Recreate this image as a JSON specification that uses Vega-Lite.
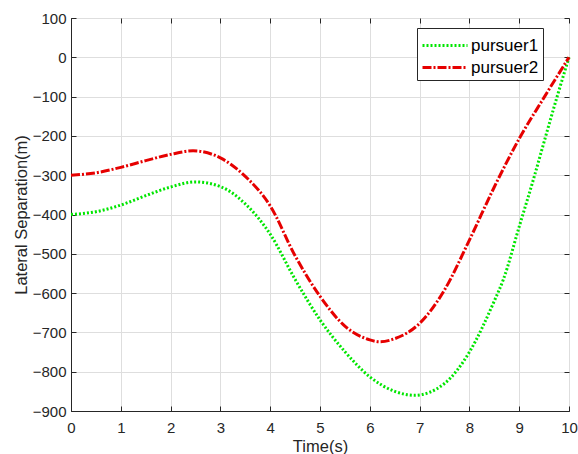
{
  "$schema": "https://vega.github.io/schema/vega-lite/v6.json",
  "autosize": "none",
  "width": 498,
  "height": 393,
  "padding": {"left": 71, "top": 18, "right": 9, "bottom": 43},
  "background": "white",
  "config": {
    "font": "Liberation Sans",
    "view": {"stroke": "#262626", "strokeWidth": 1},
    "axis": {
      "labelFont": "Liberation Sans",
      "titleFont": "Liberation Sans",
      "labelFontSize": 15,
      "titleFontSize": 16.5,
      "titleFontWeight": "normal",
      "labelColor": "#262626",
      "titleColor": "#262626",
      "domainColor": "#262626",
      "tickColor": "#262626",
      "gridColor": "#dedede",
      "gridOpacity": 1,
      "labelOverlap": false,
      "labelFlush": false
    }
  },
  "data": {
    "values": [
      {"t": 0, "v": -400, "s": "pursuer1"},
      {"t": 0.5, "v": -393, "s": "pursuer1"},
      {"t": 1, "v": -376, "s": "pursuer1"},
      {"t": 1.5, "v": -352, "s": "pursuer1"},
      {"t": 2, "v": -330, "s": "pursuer1"},
      {"t": 2.5, "v": -317, "s": "pursuer1"},
      {"t": 3, "v": -329, "s": "pursuer1"},
      {"t": 3.5, "v": -373, "s": "pursuer1"},
      {"t": 4, "v": -450, "s": "pursuer1"},
      {"t": 4.5, "v": -565, "s": "pursuer1"},
      {"t": 5, "v": -668, "s": "pursuer1"},
      {"t": 5.5, "v": -749, "s": "pursuer1"},
      {"t": 6, "v": -813, "s": "pursuer1"},
      {"t": 6.5, "v": -850, "s": "pursuer1"},
      {"t": 6.9, "v": -860, "s": "pursuer1"},
      {"t": 7.5, "v": -830, "s": "pursuer1"},
      {"t": 8, "v": -750, "s": "pursuer1"},
      {"t": 8.5, "v": -620, "s": "pursuer1"},
      {"t": 8.68, "v": -566, "s": "pursuer1"},
      {"t": 9, "v": -431, "s": "pursuer1"},
      {"t": 9.31, "v": -300, "s": "pursuer1"},
      {"t": 9.5, "v": -215, "s": "pursuer1"},
      {"t": 9.75, "v": -105, "s": "pursuer1"},
      {"t": 10, "v": 0, "s": "pursuer1"},
      {"t": 0, "v": -300, "s": "pursuer2"},
      {"t": 0.5, "v": -294, "s": "pursuer2"},
      {"t": 1, "v": -280, "s": "pursuer2"},
      {"t": 1.5, "v": -263, "s": "pursuer2"},
      {"t": 2, "v": -247, "s": "pursuer2"},
      {"t": 2.45, "v": -238, "s": "pursuer2"},
      {"t": 3, "v": -256, "s": "pursuer2"},
      {"t": 3.5, "v": -303, "s": "pursuer2"},
      {"t": 4, "v": -378, "s": "pursuer2"},
      {"t": 4.5, "v": -505, "s": "pursuer2"},
      {"t": 5, "v": -608, "s": "pursuer2"},
      {"t": 5.5, "v": -684, "s": "pursuer2"},
      {"t": 6, "v": -719, "s": "pursuer2"},
      {"t": 6.2, "v": -724, "s": "pursuer2"},
      {"t": 6.5, "v": -716, "s": "pursuer2"},
      {"t": 7, "v": -677, "s": "pursuer2"},
      {"t": 7.5, "v": -592, "s": "pursuer2"},
      {"t": 8, "v": -465, "s": "pursuer2"},
      {"t": 8.5, "v": -330, "s": "pursuer2"},
      {"t": 9, "v": -207, "s": "pursuer2"},
      {"t": 9.5, "v": -102, "s": "pursuer2"},
      {"t": 10, "v": 0, "s": "pursuer2"}
    ]
  },
  "resolve": {"axis": {"x": "independent", "y": "independent"}},
  "layer": [
    {
      "mark": {"type": "line", "interpolate": "monotone", "strokeWidth": 3},
      "encoding": {
        "x": {
          "field": "t", "type": "quantitative",
          "scale": {"domain": [0, 10], "nice": false},
          "axis": {"title": "Time(s)", "values": [0,1,2,3,4,5,6,7,8,9,10], "tickSize": -5, "labelPadding": 14, "titlePadding": 3, "grid": true}
        },
        "y": {
          "field": "v", "type": "quantitative",
          "scale": {"domain": [-900, 100], "nice": false},
          "axis": {"title": "Lateral Separation(m)", "values": [-900,-800,-700,-600,-500,-400,-300,-200,-100,0,100], "tickSize": -5, "labelPadding": 10, "titlePadding": 3, "grid": true}
        },
        "color": {
          "field": "s", "type": "nominal",
          "scale": {"domain": ["pursuer1", "pursuer2"], "range": ["#00e600", "#e60000"]},
          "legend": {
            "title": null,
            "orient": "none",
            "legendX": 346,
            "legendY": 10,
            "direction": "vertical",
            "symbolType": "M-1,0H2.75",
            "symbolSize": 576,
            "symbolStrokeWidth": 3,
            "labelFontSize": 17,
            "labelFont": "Liberation Sans",
            "labelColor": "#000000",
            "strokeColor": "#262626",
            "fillColor": "white",
            "padding": 4,
            "rowPadding": 0,
            "labelOffset": 23
          }
        },
        "strokeDash": {
          "field": "s", "type": "nominal",
          "scale": {"domain": ["pursuer1", "pursuer2"], "range": [[2, 2], [9, 2, 2, 2]]},
          "legend": null
        }
      }
    },
    {
      "mark": {"type": "line", "strokeOpacity": 0},
      "encoding": {
        "x": {
          "field": "t", "type": "quantitative",
          "axis": {"orient": "top", "title": null, "labels": false, "domain": false, "grid": false, "values": [0,1,2,3,4,5,6,7,8,9,10], "tickSize": -5}
        },
        "y": {
          "field": "v", "type": "quantitative",
          "axis": {"orient": "right", "title": null, "labels": false, "domain": false, "grid": false, "values": [-900,-800,-700,-600,-500,-400,-300,-200,-100,0,100], "tickSize": -5}
        },
        "detail": {"field": "s", "type": "nominal"}
      }
    }
  ]
}
